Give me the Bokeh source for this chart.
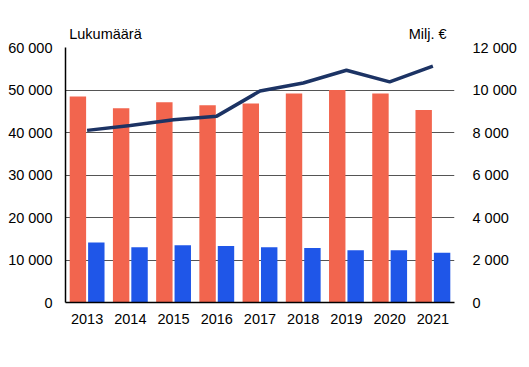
from bokeh.plotting import figure
from bokeh.models import (ColumnDataSource, Range1d, LinearAxis, FactorRange, Legend, LegendItem,
                          CustomJSTickFormatter, FixedTicker)
from bokeh.transform import dodge
from bokeh.embed import file_html
from bokeh.resources import INLINE

years = ["2013", "2014", "2015", "2016", "2017", "2018", "2019", "2020", "2021"]
henkilosto = [48500, 45700, 47100, 46400, 46800, 49200, 50000, 49200, 45300]
toimipaikat = [14100, 13000, 13500, 13300, 13000, 12800, 12300, 12300, 11700]
liikevaihto = [8100, 8330, 8600, 8770, 9950, 10330, 10930, 10380, 11120]

left_ticks = [0, 10000, 20000, 30000, 40000, 50000, 60000]
right_ticks = [0, 2000, 4000, 6000, 8000, 10000, 12000]
unit_titles = ["Lukumäärä", "Milj. €"]

ORANGE = "#F2654E"
BLUE = "#1F56E8"
NAVY = "#1C3364"
FONT = "Liberation Sans"
FS = "14.5px"

src = ColumnDataSource(dict(years=years, h=henkilosto, t=toimipaikat, l=liikevaihto))

p = figure(x_range=FactorRange(*years, range_padding=0), y_range=Range1d(0, 60000),
           frame_width=389, frame_height=255, min_border_left=65, min_border_top=47,
           min_border_right=75, min_border_bottom=0,
           output_backend="svg", toolbar_location=None)
p.outline_line_color = None
p.background_fill_color = None
p.border_fill_color = None

p.extra_y_ranges = {"r": Range1d(0, 12000)}

fmt = CustomJSTickFormatter(code="return tick.toString().replace(/\\B(?=(\\d{3})+(?!\\d))/g, ' ');")

rh = p.vbar(x=dodge("years", -0.213, range=p.x_range), top="h", width=0.38, source=src,
            fill_color=ORANGE, line_color=None)
rt = p.vbar(x=dodge("years", 0.213, range=p.x_range), top="t", width=0.38, source=src,
            fill_color=BLUE, line_color=None)
rl = p.line(x="years", y="l", source=src, y_range_name="r", line_color=NAVY, line_width=3.5)


def style(ax, standoff):
    ax.major_tick_line_color = None
    ax.minor_tick_line_color = None
    ax.major_label_standoff = standoff
    ax.major_label_text_font = FONT
    ax.major_label_text_font_size = FS
    ax.major_label_text_color = "black"


ya = p.yaxis[0]
ya.ticker = FixedTicker(ticks=left_ticks)
ya.formatter = fmt
ya.axis_line_color = "black"
ya.axis_line_width = 1.5
style(ya, 7)

ra = LinearAxis(y_range_name="r", ticker=FixedTicker(ticks=right_ticks), formatter=fmt)
ra.axis_line_color = None
style(ra, 12)
p.add_layout(ra, "right")

xa = p.xaxis[0]
xa.axis_line_color = "black"
xa.axis_line_width = 1.5
style(xa, 5)

# unit captions above the plot area (left: counts, right: million euros)
ta = LinearAxis(ticker=FixedTicker(ticks=[0.925, 8.38]),
                formatter=CustomJSTickFormatter(
                    args=dict(names=unit_titles),
                    code="return tick < 4 ? names[0] : names[1];"))
ta.axis_line_color = None
style(ta, 0)
p.add_layout(ta, "above")

p.xgrid.grid_line_color = None
p.ygrid.ticker = FixedTicker(ticks=left_ticks[1:])
p.ygrid.grid_line_color = "#555555"
p.ygrid.grid_line_width = 1

legend = Legend(items=[LegendItem(label="Henkilöstö", renderers=[rh]),
                       LegendItem(label="Toimipaikat", renderers=[rt]),
                       LegendItem(label="Liikevaihto", renderers=[rl])],
                orientation="horizontal", location="top_left",
                glyph_width=25, glyph_height=8, label_height=16, label_standoff=3,
                spacing=44, padding=0, margin=5,
                label_text_font=FONT, label_text_font_size=FS, label_text_color="black",
                border_line_color=None, background_fill_alpha=0)
p.add_layout(legend, "below")

open("out.html", "w").write(file_html(p, INLINE))
